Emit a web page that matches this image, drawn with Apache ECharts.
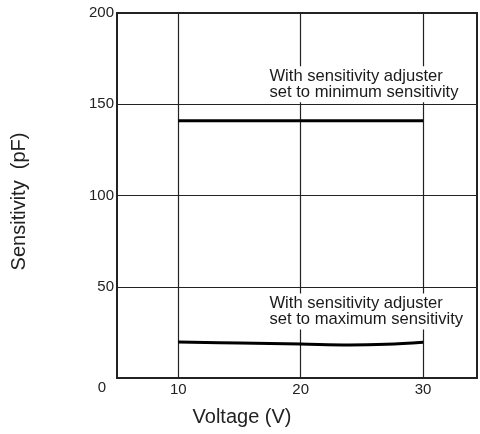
<!DOCTYPE html>
<html>
<head>
<meta charset="utf-8">
<script src="https://cdn.jsdelivr.net/npm/echarts@6/dist/echarts.min.js"></script>
<style>html,body{margin:0;padding:0;background:#fff}#c{width:480px;height:434px}</style>
</head>
<body>
<div id="c"></div>
<script>
// Data
var minSensitivity = [[10, 141], [30, 141]];
var maxSensitivity = [[10, 19.7], [15, 19.2], [20, 18.6], [24, 18.1], [27, 18.5], [30, 19.6]];
var xGridValues = [10, 20, 30];
var annotations = [
  { x: 17.45, y: 161, text: 'With sensitivity adjuster\nset to minimum sensitivity' },
  { x: 17.45, y: 36.5, text: 'With sensitivity adjuster\nset to maximum sensitivity' }
];
var xTitle = 'Voltage (V)';
var yTitle = 'Sensitivity  (pF)';

var FONT = '"Liberation Sans", Arial, Helvetica, sans-serif';
var INK = '#222';

var chart = echarts.init(document.getElementById('c'), null, { renderer: 'canvas' });
chart.setOption({
  animation: false,
  backgroundColor: '#fff',
  textStyle: { fontFamily: FONT, color: INK },
  grid: { left: 117, right: 3, top: 13, bottom: 56, show: true, borderColor: INK, borderWidth: 2, containLabel: false },
  xAxis: {
    type: 'value', min: 5, max: 34.4, interval: 5,
    axisLine: { show: false }, axisTick: { show: false },
    splitLine: { show: false },
    axisLabel: {
      margin: 4, fontSize: 15, color: INK, fontFamily: FONT,
      showMinLabel: false, showMaxLabel: false,
      formatter: function (v) { return xGridValues.indexOf(v) >= 0 ? String(v) : ''; }
    },
    name: xTitle, nameLocation: 'middle', nameGap: 29,
    nameTextStyle: { fontSize: 20, color: INK, fontFamily: FONT, padding: [0, 110, 0, 0] }
  },
  yAxis: {
    type: 'value', min: 0, max: 200, interval: 50,
    axisLine: { show: false }, axisTick: { show: false },
    splitLine: { show: true, lineStyle: { color: INK, width: 1.2 } },
    axisLabel: {
      margin: 3, fontSize: 15, color: INK, fontFamily: FONT,
      formatter: function (v) { return v === 0 ? '{z|0}' : String(v); },
      rich: { z: { fontSize: 15, color: INK, fontFamily: FONT, padding: [20, 8, 0, 0] } }
    },
    name: yTitle, nameLocation: 'middle', nameGap: 88,
    nameTextStyle: { fontSize: 20, color: INK, fontFamily: FONT, padding: [0, 12, 0, 0] }
  },
  series: [
    {
      type: 'line', data: minSensitivity, symbol: 'none',
      lineStyle: { color: '#000', width: 3 }, z: 3,
      markLine: {
        silent: true, symbol: 'none', label: { show: false },
        lineStyle: { color: INK, width: 1.2, type: 'solid' },
        data: xGridValues.map(function (v) { return { xAxis: v }; }),
        z: 1
      }
    },
    {
      type: 'line', data: maxSensitivity, symbol: 'none', smooth: 0.4,
      lineStyle: { color: '#000', width: 3 }, z: 3
    },
    {
      type: 'scatter', z: 10, symbolSize: 0, silent: true,
      itemStyle: { opacity: 1 },
      data: annotations.map(function (a) { return { value: [a.x, a.y], name: a.text }; }),
      label: {
        show: true, position: 'right', distance: 0, align: 'left', verticalAlign: 'middle',
        formatter: function (p) { return p.name; },
        fontSize: 16.6, lineHeight: 15.5, color: '#1a1a1a', opacity: 1, fontFamily: FONT,
        backgroundColor: '#fff', padding: [2, 2, 3, 0]
      }
    }
  ]
});
</script>
</body>
</html>
